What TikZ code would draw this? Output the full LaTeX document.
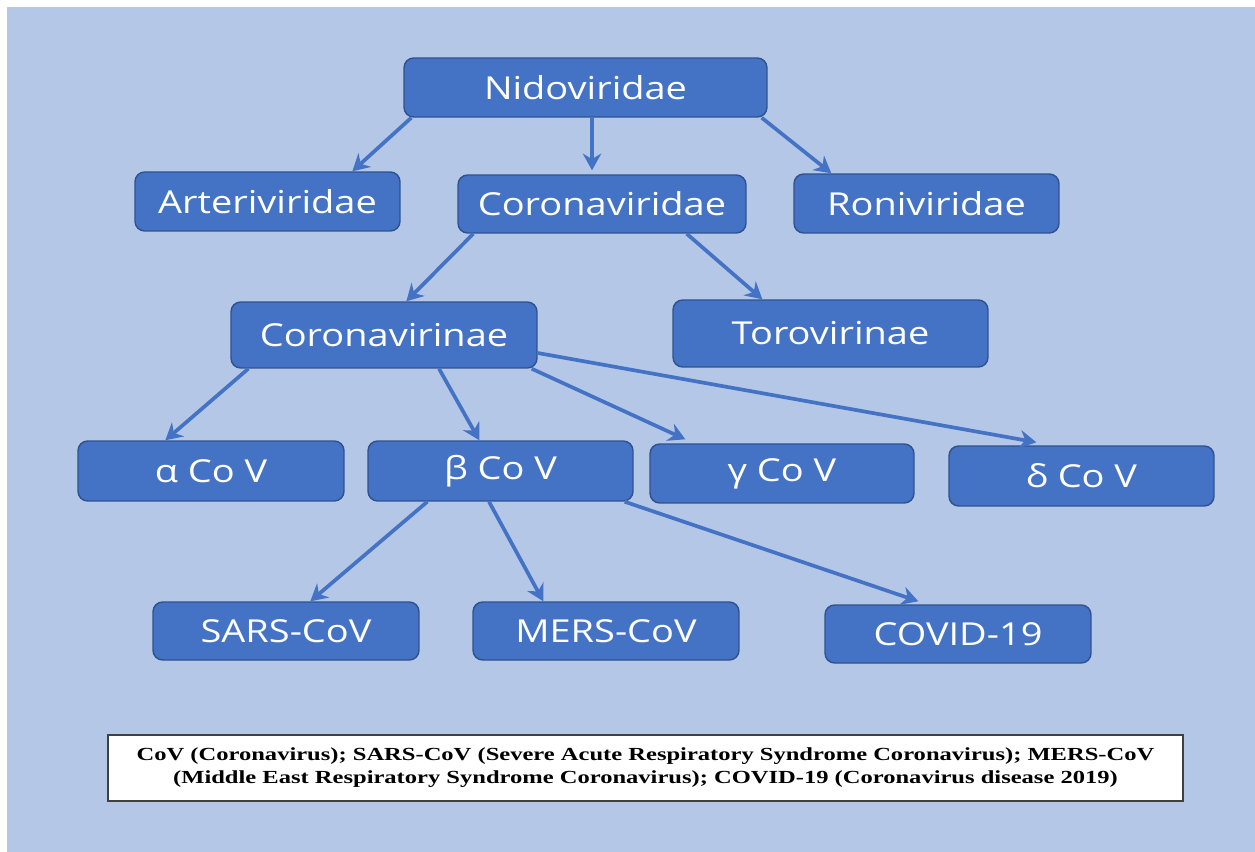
\documentclass[tikz,border=0pt]{standalone}
\usepackage{fontspec}
\setmainfont{Open Sans}[FakeStretch=1.2]
\newfontfamily\notefont{Liberation Serif}[FakeStretch=1.33]
\usetikzlibrary{arrows.meta,calc}
\definecolor{bgblue}{HTML}{B4C7E7}
\definecolor{boxblue}{HTML}{4472C4}
\definecolor{edgeblue}{HTML}{2F528F}
\tikzset{
  box/.style={draw=edgeblue,line width=0.8pt,fill=boxblue,rounded corners=5.5pt,
    text=white,inner sep=0pt,minimum height=1.18cm,
    font=\fontsize{18}{21}\selectfont},
  arr/.style={-{Stealth[length=9.5pt,width=10.5pt]},line width=2.1pt,draw=boxblue},
  notebox/.style={draw=black!75,line width=0.9pt,fill=white,inner sep=0pt,
    align=center,minimum width=21.5cm,minimum height=1.32cm,
    font=\notefont\bfseries\fontsize{10.5}{13}\selectfont}
}
\begin{document}
\begin{tikzpicture}[x=0.02cm,y=-0.02cm]
  \useasboundingbox (0,0) rectangle (1255,852);
  \fill[bgblue] (7,7) rectangle (1255,852); %background
  % boxes
  \node[box,minimum width=7.26cm] (nido) at (585.5,87.5) {Nidoviridae};
  \node[box,minimum width=5.3cm] (arte) at (267.5,201.5) {Arteriviridae};
  \node[box,minimum width=5.76cm,minimum height=1.16cm] (corona) at (602,204) {Coronaviridae};
  \node[box,minimum width=5.3cm] (roni) at (926.5,203.5) {Roniviridae};
  \node[box,minimum width=6.12cm,minimum height=1.32cm] (cvirinae) at (384,335) {Coronavirinae};
  \node[box,minimum width=6.3cm,minimum height=1.34cm] (toro) at (830.5,333.5) {Torovirinae};
  \node[box,minimum width=5.32cm,minimum height=1.2cm] (alpha) at (211,471) {α Co V};
  \node[box,minimum width=5.3cm,minimum height=1.2cm] (beta) at (500.5,471) {β Co V};
  \node[box,minimum width=5.28cm] (gamma) at (782,473.5) {γ Co V};
  \node[box,minimum width=5.3cm,minimum height=1.2cm] (delta) at (1081.5,476) {δ Co V};
  \node[box,minimum width=5.32cm,minimum height=1.16cm] (sars) at (286,631) {SARS-CoV};
  \node[box,minimum width=5.32cm,minimum height=1.16cm] (mers) at (606,631) {MERS-CoV};
  \node[box,minimum width=5.32cm,minimum height=1.16cm] (covid) at (958,634) {COVID-19};
  \node[notebox] (note) at (645.5,768) {CoV (Coronavirus); SARS-CoV (Severe Acute Respiratory Syndrome Coronavirus); MERS-CoV\\(Middle East Respiratory Syndrome Coronavirus); COVID-19 (Coronavirus disease 2019)};
  % arrows
  \draw[arr] ($(nido.south west)+(8,0)$)--($(arte.north west)+(218,0)$);
  \draw[arr] ($(nido.south)+(6.5,0)$)--($(corona.north)+(-10,-4)$);
  \draw[arr] ($(nido.south east)+(-6,0)$)--($(roni.north west)+(38,0)$);
  \draw[arr] ($(corona.south west)+(16,0)$)--($(cvirinae.north west)+(176,0)$);
  \draw[arr] ($(corona.south east)+(-60,0)$)--($(toro.north west)+(90,0)$);
  \draw[arr] ($(cvirinae.south west)+(18,0)$)--($(alpha.north west)+(88,0)$);
  \draw[arr] ($(cvirinae.south)+(55,0)$)--($(beta.north west)+(112,0)$);
  \draw[arr] ($(cvirinae.south east)+(-6,0)$)--($(gamma.north west)+(36,-4)$);
  \draw[arr] ($(cvirinae.east)+(0,18)$)--($(delta.north west)+(88,-3)$);
  \draw[arr] ($(beta.south west)+(60,0)$)--($(sars.north west)+(158,0)$);
  \draw[arr] ($(beta.south)+(-11.5,0)$)--($(mers.north west)+(71,0)$);
  \draw[arr] ($(beta.south east)+(-9,0)$)--($(covid.north west)+(94,-3)$);
\end{tikzpicture}
\end{document}
